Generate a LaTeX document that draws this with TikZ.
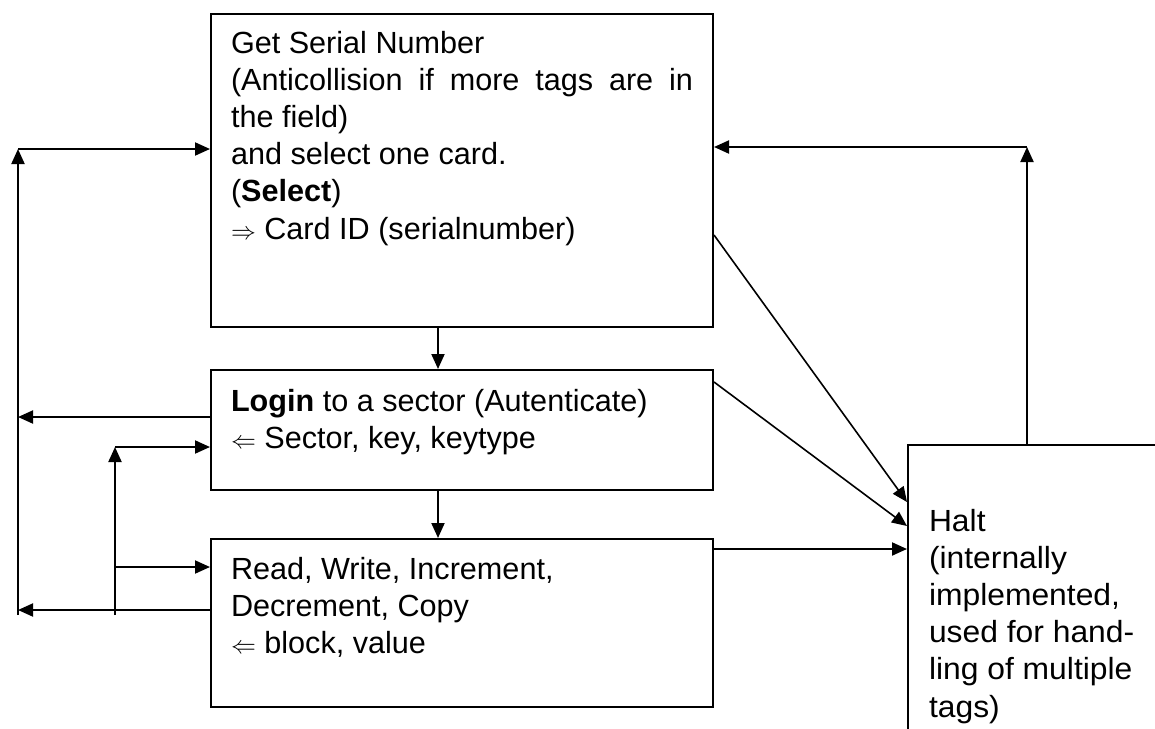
\documentclass[tikz,border=0pt]{standalone}
\usepackage{fontspec}
\setmainfont{Liberation Sans}
\newfontfamily\haltfont{Liberation Sans}[FakeStretch=1.04]
\usetikzlibrary{arrows.meta}
\newcommand{\bt}[4]{\parbox[c][#2][t]{#1}{\raggedright\fontsize{30.6}{37.2}\selectfont\rule{0pt}{#3}#4}}
\begin{document}
\begin{tikzpicture}[x=1pt,y=-1pt,
  boxnode/.style={draw=black,line width=2pt,inner xsep=20pt,inner ysep=0pt,anchor=north west,rectangle},
  arr/.style={line width=2pt,-{Triangle[length=15pt,width=13pt]}},
  darr/.style={line width=1.6pt,-{Triangle[length=15pt,width=13pt]}}]
\useasboundingbox (0,0) rectangle (1155,728);
\fill[white] (0,0) rectangle (1155,728);
\clip (0,0) rectangle (1155,728);
\node[boxnode] (b1) at (210,13) {\bt{462pt}{313pt}{39pt}{Get Serial Number\\
\makebox[\linewidth][s]{(Anticollision if more tags are in}\\
the field)\\
and select one card.\\
(\textbf{Select})\\
$\Rightarrow$ Card ID (serialnumber)}};
\node[boxnode] (b2) at (210,369) {\bt{462pt}{120pt}{41pt}{\textbf{Login} to a sector (Autenticate)\\
$\Leftarrow$ Sector, key, keytype}};
\node[boxnode] (b3) at (210,538) {\bt{462pt}{168pt}{40pt}{Read, Write, Increment,\\
Decrement, Copy\\
$\Leftarrow$ block, value}};
\node[boxnode,inner xsep=21pt] (halt) at (907,444) {\bt{300pt}{320pt}{86pt}{\haltfont Halt\\
(internally\\
implemented,\\
used for hand-\\
ling of multiple\\
tags)}};
% free ends
\coordinate (LT) at (18,149);
\coordinate (LB) at (18,615);
\coordinate (L2) at (18,417);
\coordinate (L3) at (18,610);
\coordinate (MT) at (115,447);
\coordinate (MB) at (115,615);
\coordinate (M2) at (115,567);
\coordinate (RT) at (1027,147);
\coordinate (y1) at (0,235);
\coordinate (y2) at (0,382);
\coordinate (y3) at (0,549);
\coordinate (h1) at (0,502);
\coordinate (h2) at (0,526);
\coordinate (cx) at (438,0);
% vertical flow
\draw[arr] (b1.south -| cx) -- (b2.north -| cx);
\draw[arr] (b2.south -| cx) -- (b3.north -| cx);
% left loops
\draw[arr] (LB) -- (LT);
\draw[arr] (LT) -- (b1.west |- LT);
\draw[arr] (b2.west |- L2) -- (L2);
\draw[arr] (b3.west |- L3) -- (L3);
\draw[arr] (MB) -- (MT);
\draw[arr] (MT) -- (b2.west |- MT);
\draw[arr] (M2) -- (b3.west |- M2);
% right side
\draw[arr] (halt.north -| RT) -- (RT);
\draw[arr] (RT) -- (b1.east |- RT);
\draw[darr] (b1.east |- y1) -- (halt.west |- h1);
\draw[darr] (b2.east |- y2) -- (halt.west |- h2);
\draw[arr] (b3.east |- y3) -- (halt.west |- y3);
\end{tikzpicture}
\end{document}
